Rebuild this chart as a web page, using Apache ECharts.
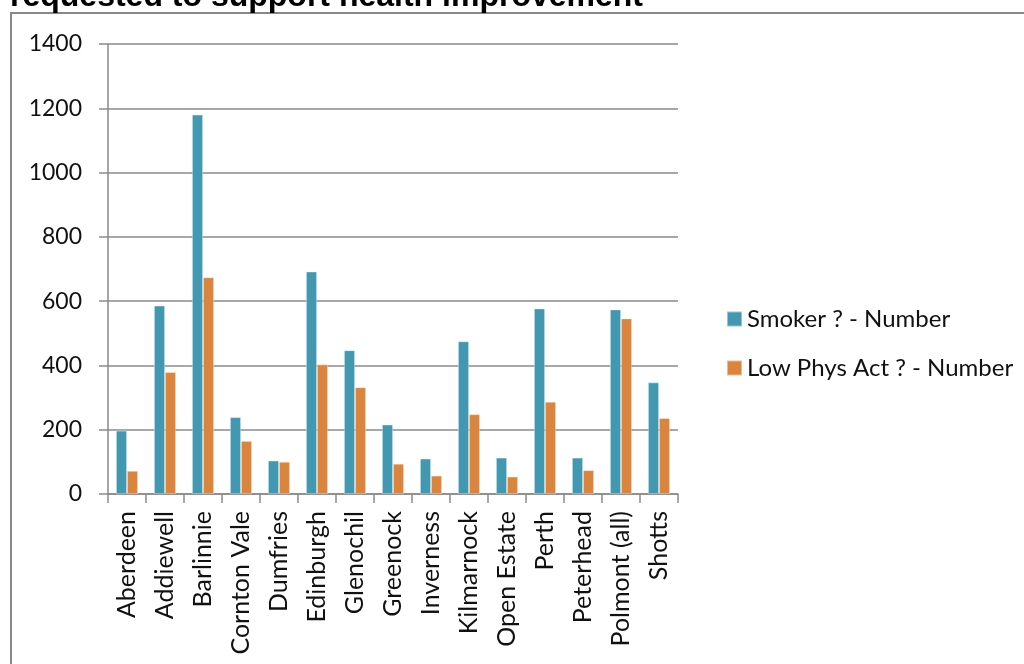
<!DOCTYPE html>
<html>
<head>
<meta charset="utf-8">
<title>Smoker and Low Physical Activity by Establishment</title>
<script src="https://cdn.jsdelivr.net/npm/echarts@6/dist/echarts.min.js"></script>
<style>
  html, body { margin: 0; padding: 0; background: #ffffff; }
  #chart { width: 1024px; height: 664px; }
</style>
</head>
<body>
<div id="chart"></div>
<script>
// Establishments along the category axis
const establishments = [
  'Aberdeen', 'Addiewell', 'Barlinnie', 'Cornton Vale', 'Dumfries',
  'Edinburgh', 'Glenochil', 'Greenock', 'Inverness', 'Kilmarnock',
  'Open Estate', 'Perth', 'Peterhead', 'Polmont (all)', 'Shotts'
];

// Counts per establishment
const smokerNumber = [197, 586, 1180, 239, 104, 692, 447, 216, 110, 475, 113, 577, 113, 574, 347];
const lowPhysActNumber = [72, 379, 674, 165, 100, 403, 332, 94, 57, 248, 54, 287, 74, 546, 236];

// Series names shown in the legend
const seriesNames = ['Smoker ? - Number', 'Low Phys Act ? - Number'];

// Value axis range
const yMin = 0;
const yMax = 1400;
const yStep = 200;

const titleText = 'requested to support health improvement';

const axisGrey = '#8a8a8a';
const labelFont = 'Lato, "Open Sans", "DejaVu Sans", sans-serif';

const chart = echarts.init(document.getElementById('chart'), null, { renderer: 'canvas' });

chart.setOption({
  animation: false,
  backgroundColor: '#ffffff',
  graphic: [
    {
      type: 'rect',
      shape: { x: 11, y: 13, width: 1040, height: 720 },
      style: { fill: 'none', stroke: '#888888', lineWidth: 2 },
      silent: true
    },
    {
      type: 'text',
      left: 10,
      top: -19,
      style: {
        text: titleText,
        font: 'bold 32px "Liberation Sans", Arial, sans-serif',
        fill: '#000000'
      },
      silent: true
    }
  ],
  grid: {
    left: 108,
    right: 346,
    top: 44,
    bottom: 170,
    containLabel: false
  },
  legend: {
    orient: 'vertical',
    left: 721,
    top: 301,
    itemWidth: 15,
    itemHeight: 15,
    itemGap: 23,
    icon: 'rect',
    data: seriesNames,
    textStyle: {
      fontFamily: labelFont,
      fontSize: 24,
      lineHeight: 26,
      color: '#111111'
    }
  },
  xAxis: {
    type: 'category',
    data: establishments,
    boundaryGap: true,
    axisLine: { show: true, lineStyle: { color: axisGrey, width: 1.5 } },
    axisTick: { show: true, interval: 0, length: 9, lineStyle: { color: axisGrey, width: 1.5 } },
    axisLabel: {
      interval: 0,
      rotate: 90,
      margin: 17,
      fontFamily: labelFont,
      fontSize: 25,
      color: '#111111'
    },
    splitLine: { show: false }
  },
  yAxis: {
    type: 'value',
    min: yMin,
    max: yMax,
    interval: yStep,
    axisLine: { show: true, lineStyle: { color: axisGrey, width: 1.5 } },
    axisTick: { show: true, length: 9, lineStyle: { color: axisGrey, width: 1.5 } },
    axisLabel: {
      margin: 26,
      fontFamily: labelFont,
      fontSize: 23,
      color: '#111111',
      formatter: (v) => String(v)
    },
    splitLine: { show: true, lineStyle: { color: axisGrey, width: 1.5 } }
  },
  series: [
    {
      name: seriesNames[0],
      type: 'bar',
      data: smokerNumber,
      barWidth: 11,
      barGap: '0%',
      itemStyle: { color: '#4298b0', borderColor: 'rgba(255,255,255,0.45)', borderWidth: 0.8 }
    },
    {
      name: seriesNames[1],
      type: 'bar',
      data: lowPhysActNumber,
      barWidth: 11,
      barGap: '0%',
      itemStyle: { color: '#db843d', borderColor: 'rgba(255,255,255,0.45)', borderWidth: 0.8 }
    }
  ]
});
</script>
</body>
</html>
